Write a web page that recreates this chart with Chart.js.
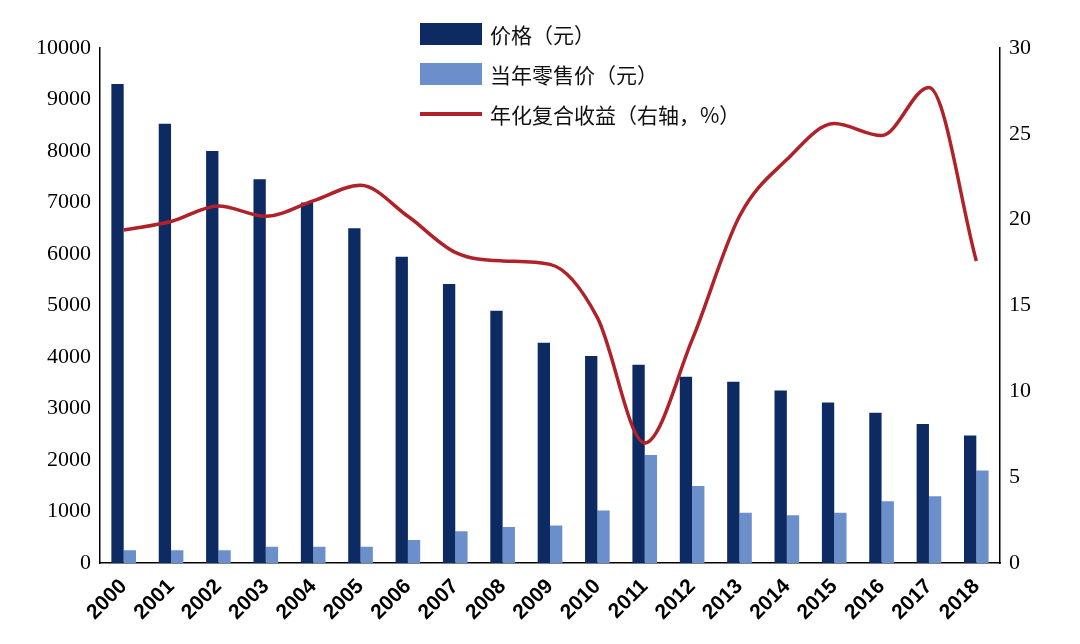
<!DOCTYPE html>
<html><head><meta charset="utf-8">
<script src="https://cdn.jsdelivr.net/npm/chart.js@4"></script>
<style>
body{margin:0;background:#fff;}
#wrap{position:relative;width:1080px;height:644px;}
#legend{position:absolute;left:420px;top:14px;font-family:"Noto Sans CJK SC";font-size:21px;color:#111;line-height:32px;}
.row{display:flex;align-items:center;height:40px;}
.sw{width:62px;height:22px;margin-right:8px;}
.ln{width:62px;height:4px;margin-right:8px;background:#b0222a;}
</style></head><body>
<div id="wrap"><canvas id="c" width="1080" height="644"></canvas>
<div id="legend">
<div class="row"><div class="sw" style="background:#0e2a63"></div>价格（元）</div>
<div class="row"><div class="sw" style="background:#6b8fcb"></div>当年零售价（元）</div>
<div class="row"><div class="ln"></div>年化复合收益（右轴，%）</div>
</div></div>
<script>
const years=['2000','2001','2002','2003','2004','2005','2006','2007','2008','2009','2010','2011','2012','2013','2014','2015','2016','2017','2018'];
const price=[9300,8530,8000,7450,7000,6500,5950,5420,4900,4280,4020,3850,3620,3520,3350,3120,2920,2700,2480];
const retail=[250,250,250,320,320,320,450,620,700,730,1020,2100,1500,980,930,980,1200,1300,1800];
const annualReturn=[19.4,19.9,20.8,20.2,21.1,22.0,20.2,18.1,17.6,17.4,14.3,7.0,13.0,20.2,23.5,25.6,24.9,27.7,17.6];
const tickFont={family:'"Liberation Serif"',size:22};
new Chart(document.getElementById('c'),{
 data:{labels:years,datasets:[
  {type:'line',data:annualReturn,yAxisID:'y1',borderColor:'#b0222a',borderWidth:3.5,pointRadius:0,tension:0.4,cubicInterpolationMode:'monotone',order:0},
  {type:'bar',data:price,backgroundColor:'#0e2a63',yAxisID:'y',categoryPercentage:0.52,barPercentage:1,order:1},
  {type:'bar',data:retail,backgroundColor:'#6b8fcb',yAxisID:'y',categoryPercentage:0.52,barPercentage:1,order:1}
 ]},
 options:{responsive:false,animation:false,
  layout:{padding:{top:48,right:8,left:4,bottom:16}},
  plugins:{legend:{display:false},tooltip:{enabled:false}},
  scales:{
   x:{grid:{display:false,drawTicks:true},border:{color:'#000',width:1.5},
      ticks:{color:'#000',maxRotation:45,minRotation:45,font:{family:'"Liberation Sans"',size:21,weight:'bold'}}},
   y:{position:'left',min:0,max:10000,grid:{display:false,drawTicks:true,tickLength:6},border:{color:'#000',width:1.5},
      ticks:{stepSize:1000,color:'#000',font:tickFont,callback:v=>String(v)},afterFit(a){a.width=96;}},
   y1:{position:'right',min:0,max:30,grid:{display:false,drawTicks:true,tickLength:6},border:{color:'#000',width:1.5},
      ticks:{stepSize:5,color:'#000',font:tickFont},afterFit(a){a.width=72;}}
  }}
});
</script></body></html>
